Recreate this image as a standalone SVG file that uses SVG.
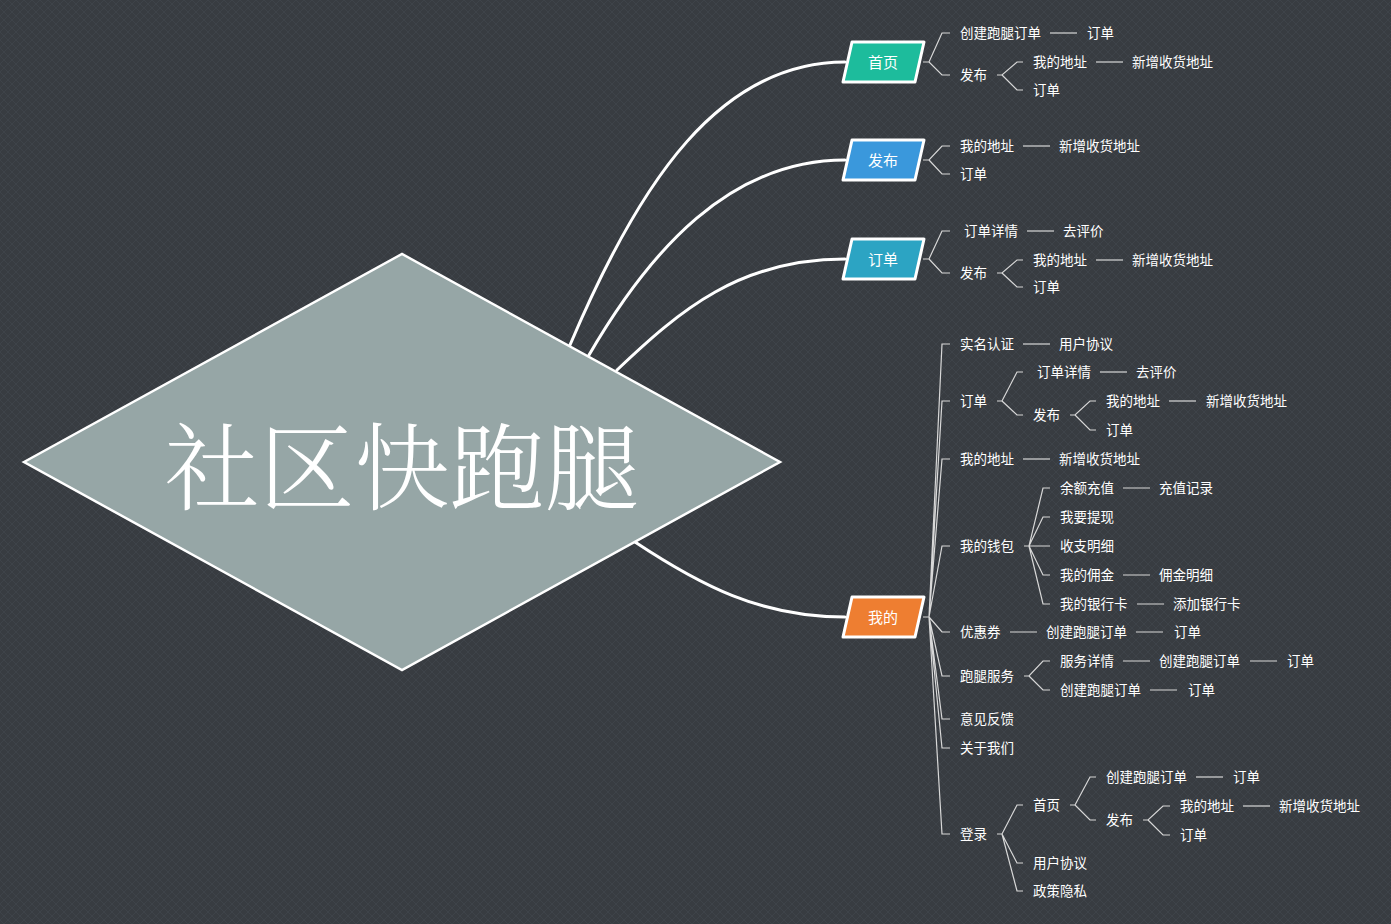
<svg xmlns="http://www.w3.org/2000/svg" width="1391" height="924" viewBox="0 0 1391 924">
<defs>
<pattern id="bg" width="8" height="8" patternUnits="userSpaceOnUse">
<rect width="8" height="8" fill="#383c41"/>
<path d="M0,0 L8,8 M8,0 L0,8" stroke="#3e4349" stroke-width="1"/>
</pattern>
<style>
.t{font-family:"Noto Sans CJK SC","Liberation Sans",sans-serif;font-size:13.5px;fill:#ffffff;dominant-baseline:central}
.nt{font-family:"Noto Sans CJK SC","Liberation Sans",sans-serif;font-size:15px;fill:#ffffff;text-anchor:middle;dominant-baseline:central}
.main{stroke:#ffffff;stroke-width:3;fill:none;stroke-linecap:round}
.br{stroke:#d8d8d8;stroke-width:1.2;fill:none}
.node{stroke:#ffffff;stroke-width:3;stroke-linejoin:round}
</style>
</defs>
<rect width="1391" height="924" fill="url(#bg)"/>

<g id="connectors">
<path class="main" d="M570,345 C640,180 720,62 845,62"/>
<path class="main" d="M589,355 C650,250 730,160 845,160"/>
<path class="main" d="M617,370 C680,310 740,259 845,259"/>
<path class="main" d="M635,542 C700,585 760,617 845,617"/>

<path class="br" d="M923,62 H929 L942,33 H950 M929,62 L942,75 H950"/>
<path class="br" d="M1050,33 H1077"/>
<path class="br" d="M997,75 H1002 L1017,62 H1023 M1002,75 L1017,90 H1023"/>
<path class="br" d="M1096,62 H1123"/>

<path class="br" d="M923,160 H929 L942,146 H950 M929,160 L942,174 H950"/>
<path class="br" d="M1023,146 H1050"/>

<path class="br" d="M923,259 H929 L942,231 H950 M929,259 L942,273 H950"/>
<path class="br" d="M1027,231 H1054"/>
<path class="br" d="M997,273 H1002 L1017,260 H1023 M1002,273 L1017,287 H1023"/>
<path class="br" d="M1096,260 H1123"/>

<path class="br" d="M923,617 H929 M929,617 L942,344 H950 M929,617 L942,401 H950 M929,617 L942,459 H950 M929,617 L942,546 H950 M929,617 L942,632 H950 M929,617 L942,676 H950 M929,617 L942,719 H950 M929,617 L942,748 H950 M929,617 L942,834 H950"/>
<path class="br" d="M1023,344 H1050"/>
<path class="br" d="M997,401 H1002 L1017,372 H1023 M1002,401 L1017,415 H1023"/>
<path class="br" d="M1100,372 H1127"/>
<path class="br" d="M1070,415 H1075 L1090,401 H1096 M1075,415 L1090,430 H1096"/>
<path class="br" d="M1169,401 H1196"/>
<path class="br" d="M1023,459 H1050"/>
<path class="br" d="M1024,546 H1029 L1043,488 H1050 M1029,546 L1043,517 H1050 M1029,546 H1050 M1029,546 L1043,575 H1050 M1029,546 L1043,604 H1050"/>
<path class="br" d="M1123,488 H1150 M1123,575 H1150 M1137,604 H1164"/>
<path class="br" d="M1010,632 H1037 M1136,632 H1163"/>
<path class="br" d="M1024,676 H1029 L1043,661 H1050 M1029,676 L1043,690 H1050"/>
<path class="br" d="M1123,661 H1150 M1250,661 H1277 M1150,690 H1177"/>
<path class="br" d="M997,834 H1002 L1017,805 H1023 M1002,834 L1017,863 H1023 M1002,834 L1017,891 H1023"/>
<path class="br" d="M1070,805 H1075 L1090,777 H1096 M1075,805 L1090,820 H1096"/>
<path class="br" d="M1196,777 H1223"/>
<path class="br" d="M1143,820 H1148 L1163,806 H1170 M1148,820 L1163,835 H1170"/>
<path class="br" d="M1243,806 H1270"/>
</g>

<g id="root">
<polygon points="24,462 402,254 780,462 402,670" fill="#96a6a6" stroke="#ffffff" stroke-width="2.5"/>
<text x="402" y="462" font-family="'Noto Serif CJK SC','Noto Sans CJK SC',serif" font-size="95" font-weight="300" fill="#ffffff" text-anchor="middle" dominant-baseline="central">社区快跑腿</text>
</g>

<g id="node-shouye">
<polygon class="node" points="852,42 924,42 915,82 843,82" fill="#1dbc9c"/>
<text class="nt" x="883" y="61">首页</text>
</g>
<g id="node-fabu">
<polygon class="node" points="852,140 924,140 915,180 843,180" fill="#3a98dc"/>
<text class="nt" x="883" y="159">发布</text>
</g>
<g id="node-dingdan">
<polygon class="node" points="852,239 924,239 915,279 843,279" fill="#2ca4c3"/>
<text class="nt" x="883" y="258">订单</text>
</g>
<g id="node-wode">
<polygon class="node" points="852,597 924,597 915,637 843,637" fill="#ee7e31"/>
<text class="nt" x="883" y="616">我的</text>
</g>

<g id="labels-shouye" transform="translate(0,-1)">
<text class="t" x="960" y="33">创建跑腿订单</text>
<text class="t" x="1087" y="33">订单</text>
<text class="t" x="960" y="75">发布</text>
<text class="t" x="1033" y="62">我的地址</text>
<text class="t" x="1132" y="62">新增收货地址</text>
<text class="t" x="1033" y="90">订单</text>
</g>
<g id="labels-fabu" transform="translate(0,-1)">
<text class="t" x="960" y="146">我的地址</text>
<text class="t" x="1059" y="146">新增收货地址</text>
<text class="t" x="960" y="174">订单</text>
</g>
<g id="labels-dingdan" transform="translate(0,-1)">
<text class="t" x="964" y="231">订单详情</text>
<text class="t" x="1063" y="231">去评价</text>
<text class="t" x="960" y="273">发布</text>
<text class="t" x="1033" y="260">我的地址</text>
<text class="t" x="1132" y="260">新增收货地址</text>
<text class="t" x="1033" y="287">订单</text>
</g>
<g id="labels-wode" transform="translate(0,-1)">
<text class="t" x="960" y="344">实名认证</text>
<text class="t" x="1059" y="344">用户协议</text>
<text class="t" x="960" y="401">订单</text>
<text class="t" x="1037" y="372">订单详情</text>
<text class="t" x="1136" y="372">去评价</text>
<text class="t" x="1033" y="415">发布</text>
<text class="t" x="1106" y="401">我的地址</text>
<text class="t" x="1206" y="401">新增收货地址</text>
<text class="t" x="1106" y="430">订单</text>
<text class="t" x="960" y="459">我的地址</text>
<text class="t" x="1059" y="459">新增收货地址</text>
<text class="t" x="960" y="546">我的钱包</text>
<text class="t" x="1060" y="488">余额充值</text>
<text class="t" x="1159" y="488">充值记录</text>
<text class="t" x="1060" y="517">我要提现</text>
<text class="t" x="1060" y="546">收支明细</text>
<text class="t" x="1060" y="575">我的佣金</text>
<text class="t" x="1159" y="575">佣金明细</text>
<text class="t" x="1060" y="604">我的银行卡</text>
<text class="t" x="1173" y="604">添加银行卡</text>
<text class="t" x="960" y="632">优惠券</text>
<text class="t" x="1046" y="632">创建跑腿订单</text>
<text class="t" x="1174" y="632">订单</text>
<text class="t" x="960" y="676">跑腿服务</text>
<text class="t" x="1060" y="661">服务详情</text>
<text class="t" x="1159" y="661">创建跑腿订单</text>
<text class="t" x="1287" y="661">订单</text>
<text class="t" x="1060" y="690">创建跑腿订单</text>
<text class="t" x="1188" y="690">订单</text>
<text class="t" x="960" y="719">意见反馈</text>
<text class="t" x="960" y="748">关于我们</text>
<text class="t" x="960" y="834">登录</text>
<text class="t" x="1033" y="805">首页</text>
<text class="t" x="1106" y="777">创建跑腿订单</text>
<text class="t" x="1233" y="777">订单</text>
<text class="t" x="1106" y="820">发布</text>
<text class="t" x="1180" y="806">我的地址</text>
<text class="t" x="1279" y="806">新增收货地址</text>
<text class="t" x="1180" y="835">订单</text>
<text class="t" x="1033" y="863">用户协议</text>
<text class="t" x="1033" y="891">政策隐私</text>
</g>
</svg>
